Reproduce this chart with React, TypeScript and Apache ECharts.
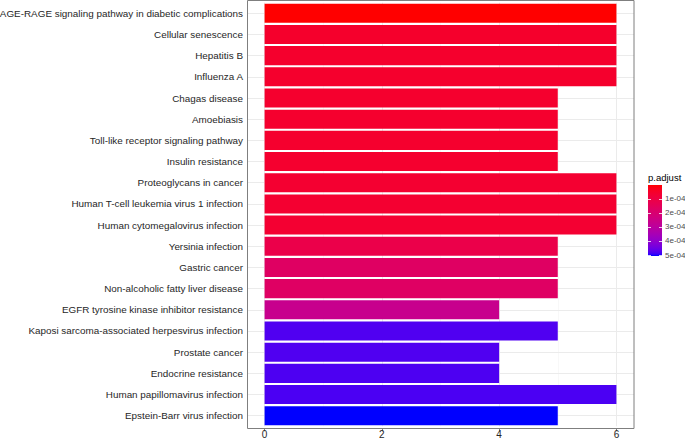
import React, { useEffect, useRef } from "react";
import * as echarts from "echarts";

const categories = [
  "AGE-RAGE signaling pathway in diabetic complications",
  "Cellular senescence",
  "Hepatitis B",
  "Influenza A",
  "Chagas disease",
  "Amoebiasis",
  "Toll-like receptor signaling pathway",
  "Insulin resistance",
  "Proteoglycans in cancer",
  "Human T-cell leukemia virus 1 infection",
  "Human cytomegalovirus infection",
  "Yersinia infection",
  "Gastric cancer",
  "Non-alcoholic fatty liver disease",
  "EGFR tyrosine kinase inhibitor resistance",
  "Kaposi sarcoma-associated herpesvirus infection",
  "Prostate cancer",
  "Endocrine resistance",
  "Human papillomavirus infection",
  "Epstein-Barr virus infection",
];

const counts = [6, 6, 6, 6, 5, 5, 5, 5, 6, 6, 6, 5, 5, 5, 4, 5, 4, 4, 6, 5];

const pAdjust = [
  1.5e-6, 5.6e-5, 5.7e-5, 5.8e-5, 5.9e-5, 6.0e-5, 6.0e-5, 6.1e-5, 6.4e-5,
  6.5e-5, 6.6e-5, 1.15e-4, 1.68e-4, 1.7e-4, 2.65e-4, 4.78e-4, 4.78e-4,
  4.8e-4, 4.82e-4, 5.07e-4,
];

const xTicks = [0, 2, 4, 6];
const xMinorGrid = [1, 3, 5];
const legendTickValues = [1e-4, 2e-4, 3e-4, 4e-4, 5e-4];
const legendTickLabels = ["1e-04", "2e-04", "3e-04", "4e-04", "5e-04"];

// --- Lab colour interpolation (like ggplot's gradient) ---
function srgbToLin(c: number) {
  c /= 255;
  return c <= 0.04045 ? c / 12.92 : Math.pow((c + 0.055) / 1.055, 2.4);
}
function linToSrgb(c: number) {
  c = Math.max(0, Math.min(1, c));
  const v = c <= 0.0031308 ? 12.92 * c : 1.055 * Math.pow(c, 1 / 2.4) - 0.055;
  return Math.round(v * 255);
}
const WX = 0.95047, WY = 1.0, WZ = 1.08883;
function f(t: number) {
  return t > 0.008856 ? Math.cbrt(t) : 7.787 * t + 16 / 116;
}
function finv(t: number) {
  return t * t * t > 0.008856 ? t * t * t : (t - 16 / 116) / 7.787;
}
function rgbToLab(r: number, g: number, b: number) {
  const R = srgbToLin(r), G = srgbToLin(g), B = srgbToLin(b);
  const X = 0.4124 * R + 0.3576 * G + 0.1805 * B;
  const Y = 0.2126 * R + 0.7152 * G + 0.0722 * B;
  const Z = 0.0193 * R + 0.1192 * G + 0.9505 * B;
  const fx = f(X / WX), fy = f(Y / WY), fz = f(Z / WZ);
  return [116 * fy - 16, 500 * (fx - fy), 200 * (fy - fz)];
}
function labToHex(L: number, a: number, b: number) {
  const fy = (L + 16) / 116;
  const fx = fy + a / 500;
  const fz = fy - b / 200;
  const X = WX * finv(fx), Y = WY * finv(fy), Z = WZ * finv(fz);
  const R = 3.2406 * X - 1.5372 * Y - 0.4986 * Z;
  const G = -0.9689 * X + 1.8758 * Y + 0.0415 * Z;
  const B = 0.0557 * X - 0.204 * Y + 1.057 * Z;
  const h = (v: number) => linToSrgb(v).toString(16).padStart(2, "0");
  return "#" + h(R) + h(G) + h(B);
}
function labRamp(n: number) {
  const A = rgbToLab(255, 0, 0);
  const Bc = rgbToLab(0, 0, 255);
  const out: string[] = [];
  for (let i = 0; i < n; i++) {
    const t = i / (n - 1);
    out.push(
      labToHex(
        A[0] + (Bc[0] - A[0]) * t,
        A[1] + (Bc[1] - A[1]) * t,
        A[2] + (Bc[2] - A[2]) * t
      )
    );
  }
  return out;
}

export default function App() {
  const ref = useRef<HTMLDivElement>(null);

  useEffect(() => {
    document.body.style.margin = "0";
    if (!ref.current) return;
    const chart = echarts.init(ref.current, null, { renderer: "svg" });
    const ramp = labRamp(41);
    const pMin = Math.min(...pAdjust);
    const pMax = Math.max(...pAdjust);

    const legX = 648, legY = 185, legW = 14, legH = 71;
    const legPos = (v: number) => legY + ((v - pMin) / (pMax - pMin)) * legH;

    const font = "'Liberation Sans', Arial, sans-serif";
    const gridColor = "#EBEBEB";

    const legendElements: any[] = [
      {
        type: "text",
        x: legX,
        y: 177,
        style: {
          text: "p.adjust",
          fontSize: 9.5,
          fontWeight: "normal",
          fontFamily: font,
          fill: "#000",
          verticalAlign: "middle",
        },
      },
      {
        type: "rect",
        shape: { x: legX, y: legY, width: legW, height: legH },
        style: {
          fill: new echarts.graphic.LinearGradient(
            0, 0, 0, 1,
            ramp.map((c, i) => ({ offset: i / (ramp.length - 1), color: c }))
          ),
        },
      },
    ];
    legendTickValues.forEach((v, i) => {
      const y = Math.round(legPos(v)) + 0.5;
      legendElements.push(
        {
          type: "line",
          shape: { x1: legX, y1: y, x2: legX + 3, y2: y },
          style: { stroke: "#fff", lineWidth: 0.8 },
        },
        {
          type: "line",
          shape: { x1: legX + legW - 3, y1: y, x2: legX + legW, y2: y },
          style: { stroke: "#fff", lineWidth: 0.8 },
        },
        {
          type: "text",
          x: 665,
          y: legPos(v),
          style: {
            text: legendTickLabels[i],
            fontSize: 8,
            fontWeight: "normal",
            fontFamily: font,
            fill: "#4D4D4D",
            verticalAlign: "middle",
          },
        }
      );
    });

    chart.setOption({
      animation: false,
      backgroundColor: "#fff",
      grid: {
        left: 247,
        right: 51,
        top: 2.7,
        bottom: 13.7,
        containLabel: false,
        outerBoundsMode: "none",
      },
      xAxis: {
        type: "value",
        min: -0.3,
        max: 6.3,
        offset: 2,
        axisLine: { show: false },
        splitLine: { show: false },
        axisTick: {
          show: true,
          customValues: xTicks,
          length: 3,
          lineStyle: { color: "#7f7f7f", width: 1 },
        },
        axisLabel: {
          customValues: xTicks,
          margin: 1,
          fontSize: 10,
          lineHeight: 10,
          fontFamily: font,
          color: "#262626",
        },
      },
      yAxis: {
        type: "category",
        data: categories,
        inverse: true,
        axisLine: { show: false },
        splitLine: { show: false },
        axisTick: {
          show: true,
          alignWithLabel: true,
          length: 3,
          lineStyle: { color: "#7f7f7f", width: 1 },
        },
        axisLabel: {
          interval: 0,
          margin: 4,
          fontSize: 9.9,
          fontFamily: font,
          color: "#262626",
        },
      },
      visualMap: {
        show: false,
        type: "continuous",
        seriesIndex: 1,
        dimension: 2,
        min: pMin,
        max: pMax,
        inRange: { color: ramp },
      },
      series: [
        {
          type: "line",
          data: [],
          silent: true,
          z: 1,
          markLine: {
            silent: true,
            symbol: "none",
            z: 1,
            label: { show: false },
            data: [
              ...xTicks.map((v) => ({
                xAxis: v,
                lineStyle: { color: gridColor, width: 1, type: "solid" },
              })),
              ...xMinorGrid.map((v) => ({
                xAxis: v,
                lineStyle: { color: "#F4F4F4", width: 0.6, type: "solid" },
              })),
              ...categories.map((_, i) => ({
                yAxis: i,
                lineStyle: { color: gridColor, width: 1, type: "solid" },
              })),
            ],
          },
        },
        {
          type: "bar",
          z: 10,
          barCategoryGap: "10%",
          encode: { x: 0, y: 1 },
          data: categories.map((c, i) => [counts[i], c, pAdjust[i]]),
        },
      ],
      graphic: [
        {
          type: "rect",
          z: 100,
          silent: true,
          shape: { x: 247.5, y: 0.5, width: 386.5, height: 428 },
          style: { fill: "none", stroke: "#7f7f7f", lineWidth: 1 },
        },
        ...legendElements,
      ],
    });

    return () => chart.dispose();
  }, []);

  return <div ref={ref} style={{ width: 685, height: 440 }} />;
}
